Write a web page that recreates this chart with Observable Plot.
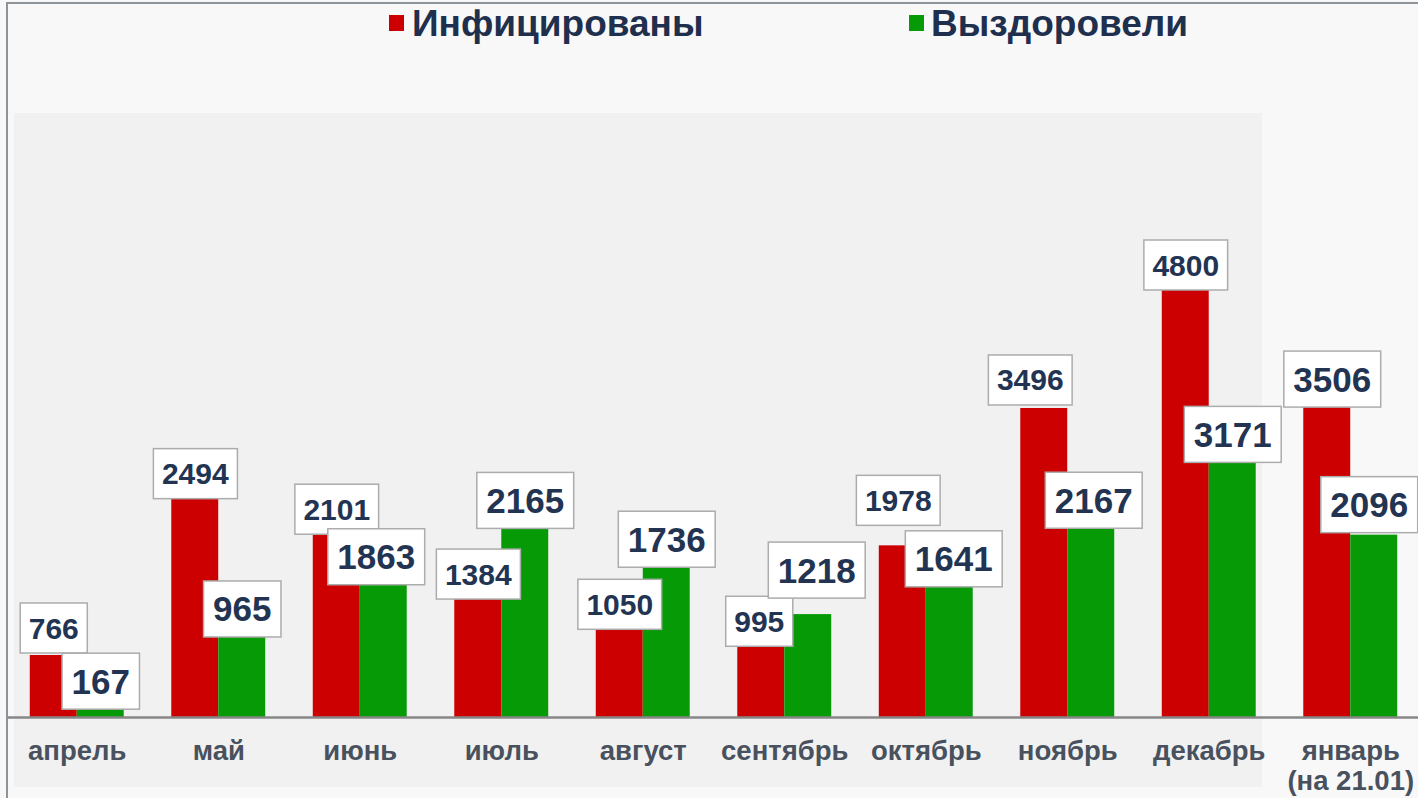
<!DOCTYPE html>
<html>
<head>
<meta charset="utf-8">
<script src="https://cdn.jsdelivr.net/npm/d3@7"></script>
<script src="https://cdn.jsdelivr.net/npm/@observablehq/plot@0.6"></script>
<style>
  html, body { margin: 0; padding: 0; background: #f8f8f8; overflow: hidden; }
  #page { position: relative; width: 1418px; height: 798px; overflow: hidden; font-family: "Liberation Sans", Arial, sans-serif; }
  #legend { position: relative; height: 52px; }
  .sw { position: absolute; width: 15px; height: 16px; }
  .lg { position: absolute; top: 5px; font-size: 37px; line-height: 37px; font-weight: bold; color: #1f2f4e; white-space: nowrap; }
  #frame { position: absolute; left: 6px; top: 2px; right: 0; bottom: 0; border-left: 2px solid #8c9399; border-top: 2px solid #8c9399; pointer-events: none; }
  #chart svg { display: block; }
</style>
</head>
<body>
<div id="page">
  <div id="legend"></div>
  <div id="chart"></div>
  <div id="frame"></div>
</div>
<script>
// ---- data ----
const months = ["апрель", "май", "июнь", "июль", "август", "сентябрь", "октябрь", "ноябрь", "декабрь", "январь"];
const monthLabels = ["апрель", "май", "июнь", "июль", "август", "сентябрь", "октябрь", "ноябрь", "декабрь", "январь\n(на 21.01)"];
const seriesNames = ["Инфицированы", "Выздоровели"];
const infected = [766, 2494, 2101, 1384, 1050, 995, 1978, 3496, 4800, 3506];
const recovered = [167, 965, 1863, 2165, 1736, 1218, 1641, 2167, 3171, 2096];

// ---- styling ----
const colors = ["#cc0000", "#079a07"];
const labelColor = "#223452";
const smallLabel = {fontSize: 30, boxH: 50, padX: 8.5};
const bigLabel = {fontSize: 35, boxH: 56, padX: 9.5};
// manual label nudges (px) as in the original picture
const labelNudges = {
  "Инфицированы|апрель": [0, -2],
  "Инфицированы|сентябрь": [-2, 12],
  "Инфицированы|октябрь": [-4.5, -20],
  "Инфицированы|ноябрь": [-14, -3],
  "Инфицированы|январь": [5, 0],
  "Выздоровели|июнь": [-7.5, 29],
  "Выздоровели|сентябрь": [8.5, -16],
  "Выздоровели|октябрь": [4, 11],
  "Выздоровели|ноябрь": [2.5, 0],
  "Выздоровели|декабрь": [0, 25],
  "Выздоровели|январь": [-5, -2]
};

const rowsInf = months.map((m, i) => ({month: m, series: seriesNames[0], value: infected[i], big: m === "январь"}));
const rowsRec = months.map((m, i) => ({month: m, series: seriesNames[1], value: recovered[i], big: true}));

// ---- legend ----
const legend = document.getElementById("legend");
[[389, 412], [909, 931]].forEach(([sx, tx], k) => {
  const sw = document.createElement("div");
  sw.className = "sw";
  sw.style.left = sx + "px";
  sw.style.top = "15px";
  sw.style.background = colors[k];
  legend.append(sw);
  const t = document.createElement("div");
  t.className = "lg";
  t.style.left = tx + "px";
  t.textContent = seriesNames[k];
  legend.append(t);
});

// ---- chart ----
const H = 746;
const half = 47;
const plot = Plot.plot({
  width: 1418,
  height: H,
  marginLeft: 6,
  marginRight: 0,
  marginTop: 0,
  marginBottom: 81,
  style: {background: "transparent", fontFamily: "'Liberation Sans', Arial, sans-serif", maxWidth: "none", overflow: "hidden"},
  x: {domain: months, range: [6, 1421], paddingInner: 0.336, paddingOuter: 0.168, round: false},
  y: {domain: [0, 4800], range: [672.3, 238], axis: null},
  marks: [
    Plot.barY(rowsInf, {x: "month", y: "value", fill: colors[0], insetRight: half, clip: true}),
    Plot.barY(rowsRec, {x: "month", y: "value", fill: colors[1], insetLeft: half, clip: true}),
    Plot.ruleY([0], {stroke: "#878787", strokeWidth: 2.5, dy: -7.3}),
    Plot.axisX({
      anchor: "bottom", tickSize: 0, tickPadding: 21, label: null,
      tickFormat: (m) => monthLabels[months.indexOf(m)],
      fontSize: 27.5, fontWeight: "bold", color: "#48515d", lineHeight: 1.09
    }),
    Plot.text(rowsInf, {x: "month", y: "value", dx: -half / 2, text: (d) => String(d.value), lineAnchor: "middle",
      fontSize: (d) => (d.big ? bigLabel : smallLabel).fontSize, fontWeight: "bold", fill: labelColor}),
    Plot.text(rowsRec, {x: "month", y: "value", dx: half / 2, text: (d) => String(d.value), lineAnchor: "middle",
      fontSize: (d) => (d.big ? bigLabel : smallLabel).fontSize, fontWeight: "bold", fill: labelColor})
  ]
});
document.getElementById("chart").append(plot);

const svg = plot.tagName.toLowerCase() === "svg" ? plot : plot.querySelector("svg");
// light grey plot panel behind everything
const ns = "http://www.w3.org/2000/svg";
const panel = document.createElementNS(ns, "rect");
panel.setAttribute("x", 14); panel.setAttribute("y", 61);
panel.setAttribute("width", 1248); panel.setAttribute("height", 674);
panel.setAttribute("fill", "#f1f1f1");
svg.insertBefore(panel, svg.firstChild);

// boxed data labels
const yS = plot.scale("y");
const textGroups = [...svg.querySelectorAll('g[aria-label="text"]')];
[rowsInf, rowsRec].forEach((rows, gi) => {
  const g = textGroups[gi];
  if (!g) return;
  const texts = [...g.querySelectorAll("text")];
  texts.forEach((t, i) => {
    const d = rows[i];
    const st = d.big ? bigLabel : smallLabel;
    const nudge = labelNudges[d.series + "|" + d.month] || [0, 0];
    const bb = t.getBBox();
    const m = t.getCTM();
    const pm = t.parentNode.getCTM();
    const cx = bb.x + bb.width / 2 + m.e;
    const cy = bb.y + bb.height / 2 + m.f;
    const dcx = cx + nudge[0];
    const dcy = yS.apply(d.value) - st.boxH / 2 + nudge[1];
    const w = bb.width + 2 * st.padX, h = st.boxH;
    const r = document.createElementNS(ns, "rect");
    r.setAttribute("x", dcx - pm.e - w / 2);
    r.setAttribute("y", dcy - pm.f - h / 2);
    r.setAttribute("width", w);
    r.setAttribute("height", h);
    r.setAttribute("fill", "#ffffff");
    r.setAttribute("stroke", "#acacac");
    r.setAttribute("stroke-width", 1.5);
    t.parentNode.insertBefore(r, t);
    const prev = t.getAttribute("transform") || "";
    t.setAttribute("transform", `translate(${dcx - cx},${dcy - cy}) ${prev}`);
  });
});
</script>
</body>
</html>
